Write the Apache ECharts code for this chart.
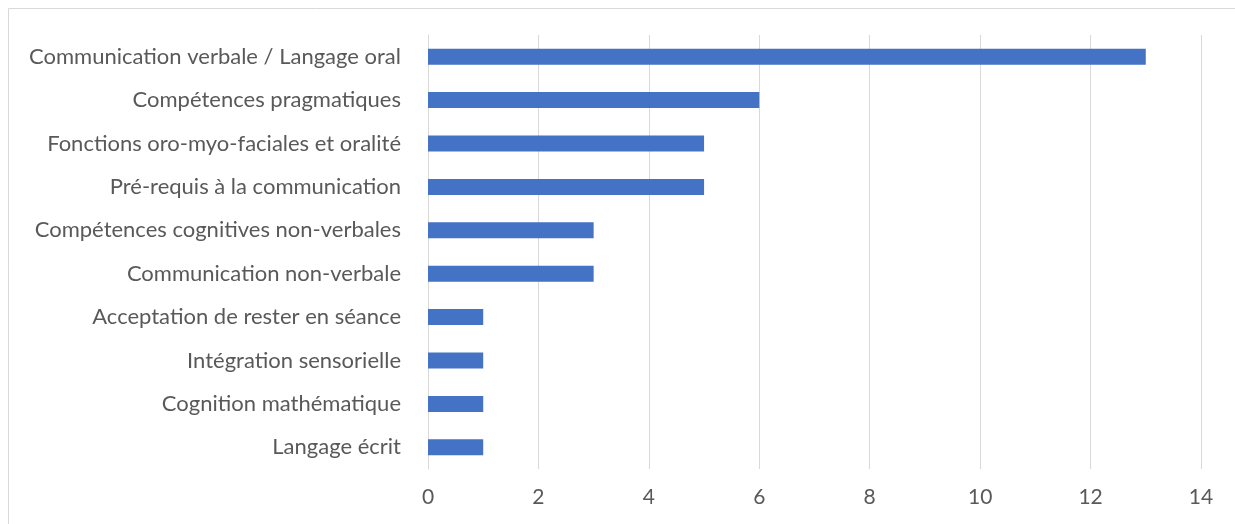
<!DOCTYPE html>
<html>
<head>
<meta charset="utf-8">
<script src="https://cdn.jsdelivr.net/npm/echarts@6/dist/echarts.min.js"></script>
<style>
  html, body { margin: 0; padding: 0; background: #fff; }
  #chart { width: 1235px; height: 524px; }
</style>
</head>
<body>
<div id="chart"></div>
<script>
// Categories listed bottom to top (category axis runs upward)
const categories = [
  'Langage écrit',
  'Cognition mathématique',
  'Intégration sensorielle',
  'Acceptation de rester en séance',
  'Communication non-verbale',
  'Compétences cognitives non-verbales',
  'Pré-requis à la communication',
  'Fonctions oro-myo-faciales et oralité',
  'Compétences pragmatiques',
  'Communication verbale / Langage oral'
];
const values = [1, 1, 1, 1, 3, 3, 5, 5, 6, 13];
const axisMin = 0;
const axisMax = 14;
const axisStep = 2;

const chart = echarts.init(document.getElementById('chart'), null, { renderer: 'canvas' });
const font = 'Lato, Open Sans, sans-serif';

chart.setOption({
  animation: false,
  backgroundColor: '#ffffff',
  graphic: [{
    type: 'rect',
    left: 6, top: 6,
    shape: { width: 1250, height: 540 },
    style: { fill: 'none', stroke: '#d9d9d9', lineWidth: 1 },
    silent: true
  }],
  grid: { left: 428, right: 34, top: 35, bottom: 55, containLabel: false },
  xAxis: {
    type: 'value',
    min: axisMin, max: axisMax, interval: axisStep,
    axisLine: { show: false },
    axisTick: { show: false },
    splitLine: { show: true, lineStyle: { color: '#d9d9d9', width: 1 } },
    axisLabel: { color: '#595959', fontSize: 21, fontFamily: font, margin: 18 }
  },
  yAxis: {
    type: 'category',
    data: categories,
    axisLine: { show: true, lineStyle: { color: '#d9d9d9', width: 1 } },
    axisTick: { show: false },
    axisLabel: { color: '#595959', fontSize: 22, fontFamily: font, margin: 27 }
  },
  series: [{
    type: 'bar',
    data: values,
    barWidth: 16,
    itemStyle: { color: '#4472c4' }
  }]
});
</script>
</body>
</html>
